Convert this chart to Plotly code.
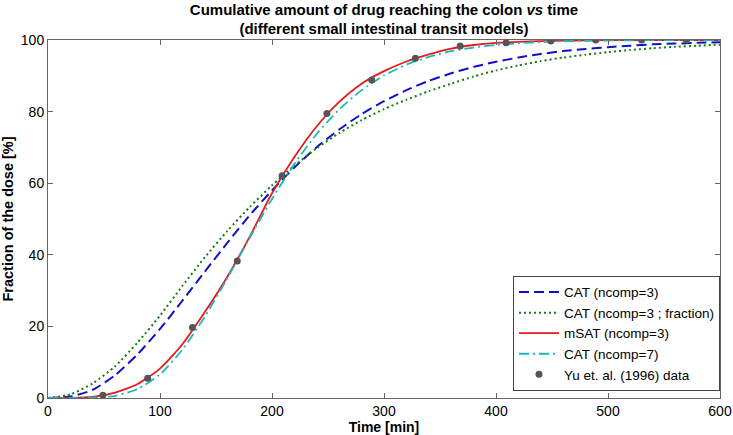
import plotly.graph_objects as go

# Time grid for the model curves (min)
time_min = [0, 20, 40, 60, 80, 100, 120, 140, 160, 180, 200, 220, 240, 260, 280, 300,
            320, 340, 360, 380, 400, 420, 440, 460, 480, 500, 520, 540, 560, 580, 600]

# Fraction of dose reaching the colon (%)
cat3 = [0, 0.4, 2.3, 6.4, 12.2, 19.3, 27.2, 35.3, 43.3, 51.0, 58.0, 64.4, 70.1, 75.0, 79.3, 82.9,
        86.0, 88.6, 90.7, 92.5, 93.9, 95.1, 96.1, 96.9, 97.5, 98.0, 98.4, 98.8, 99.0, 99.2, 99.4]
cat3_fraction = [0, 1.0, 4.1, 8.9, 15.5, 23.0, 31.3, 39.3, 46.6, 53.3, 59.4, 64.9, 69.8, 74.0, 77.6, 80.7,
                 83.3, 85.7, 87.8, 89.8, 91.5, 92.9, 94.1, 95.1, 95.9, 96.6, 97.2, 97.7, 98.1, 98.4, 98.7]
msat3 = [0, 0.0, 0.3, 1.5, 3.9, 8.2, 15.0, 24.0, 33.8, 45.0, 57.2, 67.3, 75.9, 82.7, 87.8, 91.3,
         94.0, 96.0, 97.6, 98.6, 99.2, 99.5, 99.7, 99.8, 99.9, 100, 100, 100, 100, 100, 100]
cat7 = [0, 0.0, 0.1, 0.6, 2.5, 6.6, 13.5, 22.7, 33.4, 44.7, 55.6, 65.4, 73.8, 80.6, 86.0, 90.1,
        93.1, 95.3, 96.9, 97.9, 98.6, 99.1, 99.4, 99.65, 99.78, 99.86, 99.92, 99.95, 99.97, 99.98, 99.99]

# Yu et al. (1996) observations
yu_time = [49, 89, 129, 169, 209, 249, 289, 328, 368, 409, 449, 489, 530, 570]
yu_frac = [0.8, 5.5, 19.7, 38.3, 62.1, 79.5, 88.8, 94.9, 98.3, 99.2, 99.7, 100, 100, 100]

FONT = "Liberation Sans, Arial, Helvetica, sans-serif"

fig = go.Figure()

fig.add_trace(go.Scatter(x=time_min, y=cat3, mode='lines', name='CAT (ncomp=3)',
                         line=dict(color='#1010cc', width=2, dash='10px,5px', shape='spline', smoothing=0.6)))
fig.add_trace(go.Scatter(x=time_min, y=cat3_fraction, mode='lines', name='CAT (ncomp=3 ; fraction)',
                         line=dict(color='#118011', width=2, dash='2px,3px', shape='spline', smoothing=0.6)))
fig.add_trace(go.Scatter(x=time_min, y=msat3, mode='lines', name='mSAT (ncomp=3)',
                         line=dict(color='#e8191c', width=1.8, shape='spline', smoothing=0.6)))
fig.add_trace(go.Scatter(x=time_min, y=cat7, mode='lines', name='CAT (ncomp=7)',
                         line=dict(color='#1cb8b8', width=1.8, dash='10px,4px,2px,4px', shape='spline', smoothing=0.6)))
fig.add_trace(go.Scatter(x=yu_time, y=yu_frac, mode='markers', name='Yu et. al. (1996) data',
                         marker=dict(color='#555555', size=7)))

axis_common = dict(
    showline=True, linecolor='#666666', linewidth=1, mirror='ticks',
    ticks='inside', ticklen=5, tickcolor='#666666',
    showgrid=False, zeroline=False, automargin=False,
    tickfont=dict(family=FONT, size=14, color='black'),
)

fig.update_layout(
    width=733, height=435,
    margin=dict(l=48, r=13, t=40, b=37),
    paper_bgcolor='white', plot_bgcolor='white',
    font=dict(family=FONT, color='black'),
    title=dict(
        text="<b>Cumulative amount of drug reaching the colon <i>vs</i> time<br>(different small intestinal transit models)</b>",
        x=0.5, xref='paper', xanchor='center',
        yref='container', y=1 - 14.5 / 435, yanchor='middle',
        font=dict(family=FONT, size=15, color='black'),
    ),
    xaxis=dict(range=[0, 600], tickvals=[0, 100, 200, 300, 400, 500, 600],
               title=dict(text='<b>Time [min]</b>', font=dict(family=FONT, size=14), standoff=2),
               **axis_common),
    yaxis=dict(range=[0, 100], tickvals=[0, 20, 40, 60, 80, 100],
               title=dict(text='<b>Fraction of the dose [%]</b>', font=dict(family=FONT, size=14.5), standoff=4),
               **axis_common),
    legend=dict(x=1, xanchor='right', y=0.02, yanchor='bottom',
                bgcolor='white', bordercolor='#444444', borderwidth=1,
                font=dict(family=FONT, size=13.5), tracegroupgap=0, itemwidth=40),
    showlegend=True,
)

# drop the browser's default page margin so the figure sits at the window origin
fig.write_html("out.html", config={'displayModeBar': False},
               post_script="document.body.style.margin='0px';")
